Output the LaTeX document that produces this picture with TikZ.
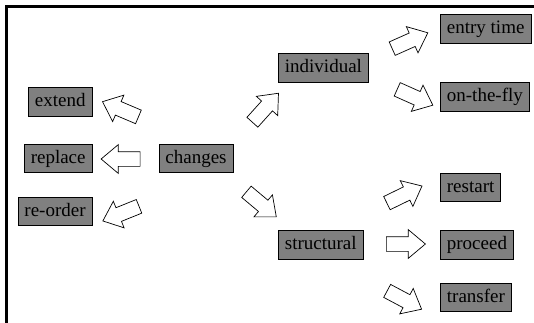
\documentclass[tikz,border=0pt]{standalone}
\usepackage{fontspec}
\IfFontExistsTF{LiberationSerif-Regular.ttf}
  {\newfontfamily\boxfont{LiberationSerif-Regular.ttf}}
  {\newfontfamily\boxfont{Liberation Serif}}
\usetikzlibrary{shapes.arrows}
\begin{document}
\begin{tikzpicture}[x=1pt,y=1pt,
  box/.style={draw=black, line width=0.8pt, fill=gray, inner xsep=6.5pt, inner ysep=5.5pt,
    text height=13.3pt, text depth=4.2pt, font=\boxfont\fontsize{19}{22}\selectfont},
  blockarrow/.style={single arrow, draw=black, line width=0.7pt, fill=white,
    inner xsep=0pt, inner ysep=7pt,
    minimum height=39pt, minimum width=28pt, single arrow head extend=7pt,
    single arrow tip angle=80, rotate=#1}]
\useasboundingbox (0,0) rectangle (534,-323);
\draw[line width=2.5pt] (6.5,-323) -- (6.5,-6.5) -- (534,-6.5);
% boxes
\node[box, anchor=east] (extend) at (92.5,-102) {extend};
\node[box, anchor=east] (replace) at (92.5,-158.5) {replace};
\node[box, anchor=east] (reorder) at (92.5,-211.5) {re-order};
\node[box, anchor=west] (changes) at (158.5,-158.5) {changes};
\node[box, anchor=west] (individual) at (278,-68) {individual};
\node[box, anchor=west] (structural) at (278,-245) {structural};
\node[box, anchor=west] (entry) at (440,-29) {entry time};
\node[box, anchor=west] (onthefly) at (440,-97) {on-the-fly};
\node[box, anchor=west] (restart) at (440,-187.5) {restart};
\node[box, anchor=west] (proceed) at (440,-245) {proceed};
\node[box, anchor=west] (transfer) at (440,-297.5) {transfer};
% block arrows
\node[blockarrow=157] (aextend) at (124.5,-111) {};
\node[blockarrow=180] (areplace) at (125,-159) {};
\node[blockarrow=202] (areorder) at (125,-212) {};
\node[blockarrow=48] (aindividual) at (262.5,-111) {};
\node[blockarrow=-40] (astructural) at (258,-201.5) {};
\node[blockarrow=24] (aentry) at (406,-42.5) {};
\node[blockarrow=-24] (aonthefly) at (411,-95.5) {};
\node[blockarrow=26] (arestart) at (400.5,-196.5) {};
\node[blockarrow=0] (aproceed) at (401.5,-244) {};
\node[blockarrow=-28] (atransfer) at (400.5,-298) {};
\end{tikzpicture}
\end{document}
